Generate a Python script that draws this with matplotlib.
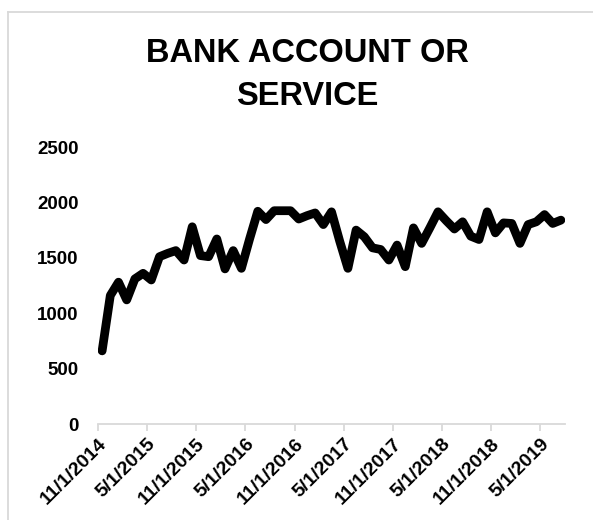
import matplotlib.pyplot as plt
from matplotlib.lines import Line2D

plt.rcParams['font.family'] = ['Liberation Sans', 'DejaVu Sans']

# monthly complaint counts, Nov 2014 - Jul 2019
months = ['11/1/2014', '12/1/2014', '1/1/2015', '2/1/2015', '3/1/2015', '4/1/2015',
          '5/1/2015', '6/1/2015', '7/1/2015', '8/1/2015', '9/1/2015', '10/1/2015',
          '11/1/2015', '12/1/2015', '1/1/2016', '2/1/2016', '3/1/2016', '4/1/2016',
          '5/1/2016', '6/1/2016', '7/1/2016', '8/1/2016', '9/1/2016', '10/1/2016',
          '11/1/2016', '12/1/2016', '1/1/2017', '2/1/2017', '3/1/2017', '4/1/2017',
          '5/1/2017', '6/1/2017', '7/1/2017', '8/1/2017', '9/1/2017', '10/1/2017',
          '11/1/2017', '12/1/2017', '1/1/2018', '2/1/2018', '3/1/2018', '4/1/2018',
          '5/1/2018', '6/1/2018', '7/1/2018', '8/1/2018', '9/1/2018', '10/1/2018',
          '11/1/2018', '12/1/2018', '1/1/2019', '2/1/2019', '3/1/2019', '4/1/2019',
          '5/1/2019', '6/1/2019', '7/1/2019']
counts = [660, 1160, 1280, 1120, 1310, 1360, 1300, 1510, 1540, 1565,
          1480, 1780, 1520, 1510, 1670, 1400, 1565, 1405, 1670, 1920,
          1845, 1925, 1925, 1925, 1850, 1880, 1905, 1800, 1915, 1650,
          1405, 1750, 1690, 1590, 1575, 1480, 1615, 1420, 1770, 1630,
          1770, 1915, 1835, 1760, 1825, 1695, 1665, 1915, 1725, 1815,
          1810, 1630, 1800, 1825, 1890, 1810, 1840]
yticks = [0, 500, 1000, 1500, 2000, 2500]

fig = plt.figure(figsize=(5.93, 5.2), dpi=100)
ax = fig.add_axes([0.1653, 0.1846, 0.7875, 0.5327])

# points sit in the middle of each month slot
x = [i + 0.5 for i in range(len(counts))]
ax.plot(x, counts, color='black', linewidth=6.3,
        solid_joinstyle='round', solid_capstyle='round')

ax.set_xlim(0, len(counts))
ax.set_ylim(0, 2500)
ax.set_yticks(yticks)
ax.set_yticklabels([str(v) for v in yticks], fontsize=13.5, fontweight='bold')
ax.set_xticks(range(0, len(counts), 6))
ax.set_xticklabels(months[::6], fontsize=14, fontweight='bold',
                   rotation=45, ha='right', rotation_mode='anchor')

for side in ['left', 'right', 'top']:
    ax.spines[side].set_visible(False)
ax.spines['bottom'].set_color('#d9d9d9')
ax.spines['bottom'].set_linewidth(1.3)
ax.tick_params(axis='y', length=0, pad=14)
ax.tick_params(axis='x', length=5, width=1.3, color='#d9d9d9', pad=3)

fig.text(0.518, 0.898, 'BANK ACCOUNT OR', ha='center', va='center',
         fontsize=23.5, fontweight='bold')
fig.text(0.518, 0.815, 'SERVICE', ha='center', va='center',
         fontsize=23.5, fontweight='bold')

# chart area border (left and top edges)
fig.add_artist(Line2D([8 / 593, 8 / 593], [0, 1 - 12 / 520], color='#d9d9d9', linewidth=1.3))
fig.add_artist(Line2D([8 / 593, 1], [1 - 12 / 520, 1 - 12 / 520], color='#d9d9d9', linewidth=1.3))

fig.savefig('out.png', dpi=100)
